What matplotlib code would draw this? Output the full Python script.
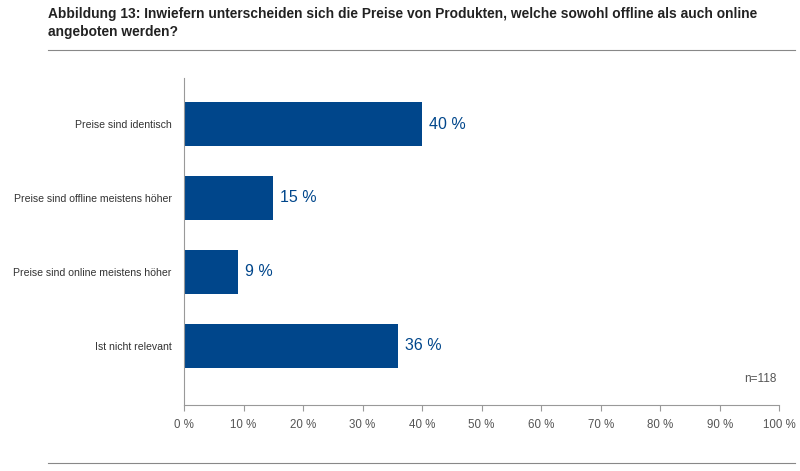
import matplotlib
matplotlib.use("Agg")
import matplotlib.pyplot as plt
from matplotlib.lines import Line2D

categories = ["Preise sind identisch", "Preise sind offline meistens höher",
              "Preise sind online meistens höher", "Ist nicht relevant"]
values = [40, 15, 9, 36]
ticks = list(range(0, 101, 10))
tick_labels = [f"{t} %" for t in ticks]

plt.rcParams['font.family'] = ['Liberation Sans', 'DejaVu Sans']
blue = "#00468b"
fig = plt.figure(figsize=(8, 4.71), dpi=100)
ax = fig.add_axes([0.23, 0.14, 0.744, 0.694])
ax.barh(range(len(values)), values, height=0.6, color=blue)
for i, v in enumerate(values):
    ax.text(v + 1.2, i, f"{v} %", va="center", ha="left", color=blue, fontsize=11.5)
ax.set_ylim(3.8, -0.62)
ax.set_xlim(0, 100)
ax.set_yticks(range(len(values)))
ax.set_yticklabels(categories, fontsize=7.6, color="#333333")
ax.set_xticks(ticks)
ax.set_xticklabels(tick_labels, fontsize=8.3, color="#555555")
ax.tick_params(axis="y", length=0, pad=9)
ax.tick_params(axis="x", length=4, color="#999999", pad=6)
for s in ["top", "right"]:
    ax.spines[s].set_visible(False)
for s in ["left", "bottom"]:
    ax.spines[s].set_color("#999999")
ax.text(0.995, 0.07, "n=118", transform=ax.transAxes, ha="right", fontsize=8.5, color="#555555")
fig.text(0.06, 0.985, "Abbildung 13: Inwiefern unterscheiden sich die Preise von Produkten, welche sowohl offline als auch online\nangeboten werden?",
         fontsize=9.9, fontweight="bold", va="top", ha="left", color="#222222", linespacing=1.35)
fig.add_artist(Line2D([0.06, 0.994], [0.894, 0.894], color="#888888", lw=0.8))
fig.add_artist(Line2D([0.06, 0.994], [0.017, 0.017], color="#888888", lw=0.8))
fig.savefig("out.png", dpi=100)
